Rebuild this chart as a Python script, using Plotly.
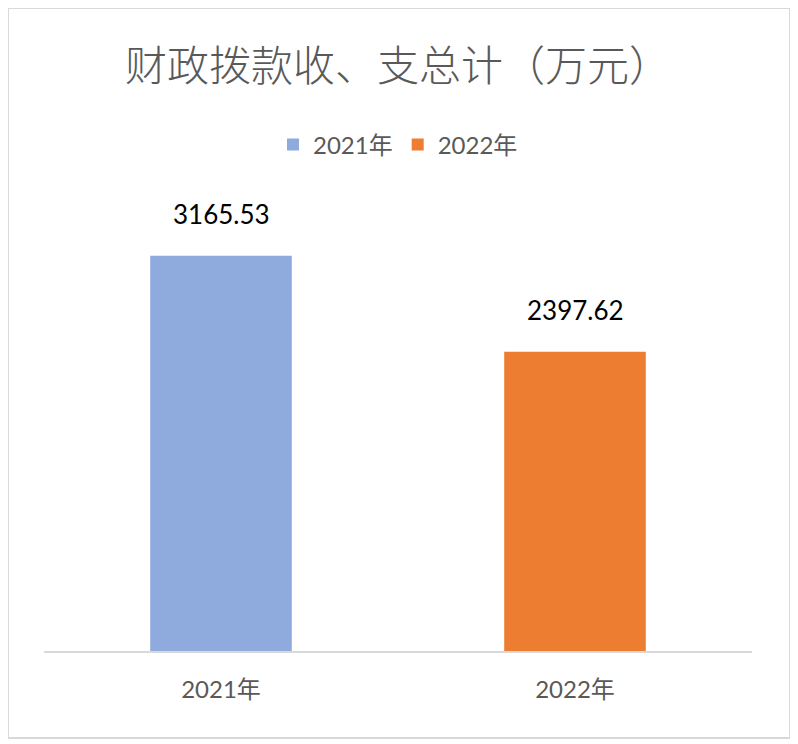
import plotly.graph_objects as go

years = ['2021年', '2022年']
totals = [3165.53, 2397.62]
colors = ['#8FAADC', '#ED7D31']
title_text = '财政拨款收、支总计（万元）'

# page has an 8px body margin, so the figure is a bit smaller and shifted
W, H = 790, 736
L, R, T, B = 36, 46, 206, 93

num_font = 'Lato, Noto Sans CJK SC, sans-serif'
cjk_font = 'Noto Sans CJK SC, sans-serif'

fig = go.Figure()
for yr, val, col in zip(years, totals, colors):
    fig.add_trace(go.Bar(
        x=[yr], y=[val], name=yr,
        marker=dict(color=col, line=dict(width=0)),
    ))
    fig.add_annotation(x=yr, y=val, text=f'{val:.2f}', showarrow=False,
                       yanchor='bottom', yshift=24,
                       font=dict(family=num_font, size=26, color='#000000'))


def px_x(p):
    return (p - L) / (W - L - R)


def px_y(p):
    return (H - B - p) / (H - T - B)


fig.update_layout(
    width=W, height=H,
    margin=dict(l=L, r=R, t=T, b=B),
    paper_bgcolor='white', plot_bgcolor='white',
    barmode='overlay', bargap=0.6,
    title=dict(text=title_text, x=0.5, xref='paper', xanchor='center',
               y=1 - 58 / H, yanchor='middle',
               font=dict(family=cjk_font, size=42, color='#595959', weight=300)),
    legend=dict(orientation='h', x=0.5, xanchor='center', xref='paper',
                y=px_y(137), yanchor='middle',
                font=dict(family=num_font, size=24, color='#595959'),
                itemwidth=30, itemsizing='constant'),
    showlegend=True,
    shapes=[dict(type='rect', xref='paper', yref='paper',
                 x0=px_x(0), x1=px_x(782), y0=px_y(730), y1=px_y(0),
                 line=dict(color='#D9D9D9', width=2), layer='below')],
)
fig.update_xaxes(showline=True, linecolor='#D9D9D9', linewidth=2,
                 showgrid=False, ticks='', ticklen=0, ticklabelstandoff=16,
                 tickfont=dict(family=num_font, size=24, color='#595959'))
fig.update_yaxes(range=[0, 3500], visible=False, showgrid=False)

fig.write_html('out.html')
